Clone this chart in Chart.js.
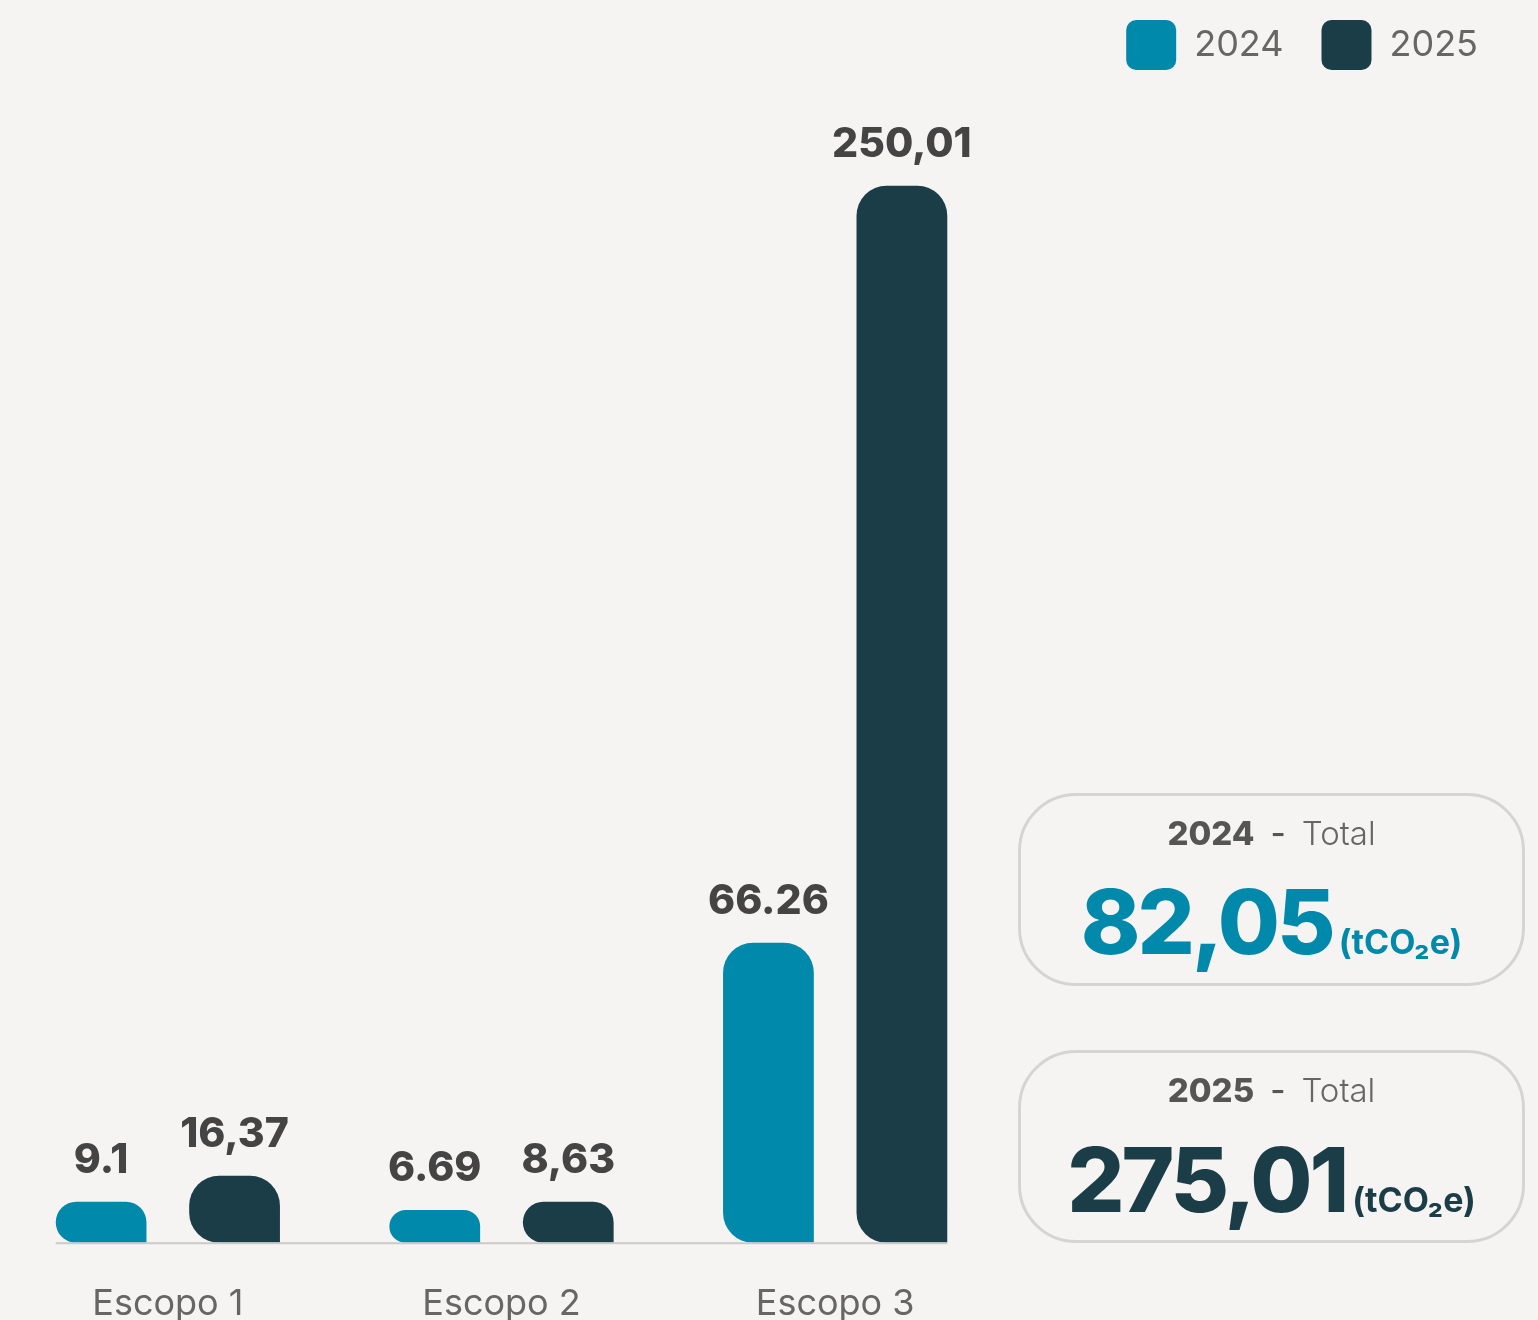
<!DOCTYPE html>
<html>
<head>
<meta charset="utf-8">
<script src="https://cdn.jsdelivr.net/npm/chart.js@4.4.1/dist/chart.umd.min.js"></script>
<style>
  html, body { margin: 0; padding: 0; background: #f5f4f2; }
  body { width: 1538px; height: 1320px; position: relative; overflow: hidden; font-family: Inter, "Noto Sans", sans-serif; }
  #wrap { position: absolute; left: 0; top: 0; width: 1538px; height: 1320px; }
  .box { position: absolute; left: 1018px; width: 501px; height: 187px; border: 3px solid #d5d4d2; border-radius: 58px; box-sizing: content-box; }
  .ttl { position: absolute; left: 1018px; width: 507px; text-align: center; font-size: 33px; line-height: 1; white-space: nowrap; }
  .ttl b { font-weight: 800; color: #555; }
  .ttl .dash { color: #555; font-weight: 500; margin: 0 16px; }
  .ttl .lt { font-weight: 300; color: #666; }
  .num { position: absolute; left: 1018px; width: 507px; text-align: center; font-size: 90px; line-height: 1; font-weight: 800; white-space: nowrap; letter-spacing: -3px; }
  .num span { font-size: 34px; font-weight: 700; letter-spacing: 0; margin-left: 6px; }
</style>
</head>
<body>
<div id="wrap"><canvas id="c" width="1538" height="1320"></canvas></div>

<div class="box" style="top:793px;"></div>
<div class="ttl" style="top:817px;"><b>2024</b><span class="dash">-</span><span class="lt">Total</span></div>
<div class="num" style="top:877px;color:#0089ab;" id="tot2024"></div>

<div class="box" style="top:1050px;"></div>
<div class="ttl" style="top:1074px;"><b>2025</b><span class="dash">-</span><span class="lt">Total</span></div>
<div class="num" style="top:1135px;color:#1a3d47;" id="tot2025"></div>

<script>
// ---- data ----
const categories = ["Escopo 1", "Escopo 2", "Escopo 3"];
const seriesNames = ["2024", "2025"];
const values2024 = [9.70, 7.74, 70.98];
const values2025 = [15.85, 9.70, 250.01];
const labels2024 = ["9.1", "6.69", "66.26"];
const labels2025 = ["16,37", "8,63", "250,01"];
const totalLabels = ["82,05", "275,01"];
const unitLabel = "(tCO\u2082e)";

const colors = ["#0089ab", "#1a3d47"];

document.getElementById('tot2024').innerHTML = totalLabels[0] + '<span>' + unitLabel + '</span>';
document.getElementById('tot2025').innerHTML = totalLabels[1] + '<span>' + unitLabel + '</span>';

const valueLabelPlugin = {
  id: 'valueLabels',
  afterDatasetsDraw(chart) {
    const ctx = chart.ctx;
    const txt = [labels2024, labels2025];
    ctx.save();
    ctx.font = '800 41px Inter, "Noto Sans", sans-serif';
    ctx.fillStyle = '#444444';
    ctx.textAlign = 'center';
    ctx.textBaseline = 'alphabetic';
    chart.data.datasets.forEach((ds, di) => {
      const meta = chart.getDatasetMeta(di);
      meta.data.forEach((bar, i) => {
        ctx.fillText(txt[di][i], bar.x, bar.y - 29);
      });
    });
    ctx.restore();
  }
};

const baseLinePlugin = {
  id: 'baseLine',
  afterDatasetsDraw(chart) {
    const m0 = chart.getDatasetMeta(0).data[0];
    const m1 = chart.getDatasetMeta(1).data[2];
    const x0 = m0.x - m0.width / 2;
    const x1 = m1.x + m1.width / 2;
    const y = chart.chartArea.bottom + 0.5;
    const ctx = chart.ctx;
    ctx.save();
    ctx.strokeStyle = '#cbcac8';
    ctx.lineWidth = 2;
    ctx.beginPath();
    ctx.moveTo(x0, y);
    ctx.lineTo(x1, y);
    ctx.stroke();
    ctx.restore();
  }
};

const radius = { topLeft: 30, topRight: 30, bottomLeft: 30, bottomRight: 0 };

new Chart(document.getElementById('c'), {
  type: 'bar',
  data: {
    labels: categories,
    datasets: [
      { label: seriesNames[0], data: values2024, backgroundColor: colors[0], borderWidth: 0, borderRadius: radius, borderSkipped: false },
      { label: seriesNames[1], data: values2025, backgroundColor: colors[1], borderWidth: 0, borderRadius: radius, borderSkipped: false }
    ]
  },
  options: {
    responsive: false,
    animation: false,
    devicePixelRatio: 1,
    datasets: { bar: { categoryPercentage: 0.8, barPercentage: 0.68 } },
    layout: { padding: { top: -18, left: 1, right: 22, bottom: -46 } },
    plugins: {
      tooltip: { enabled: false },
      legend: {
        position: 'top',
        align: 'end',
        labels: {
          boxWidth: 50,
          boxHeight: 50,
          useBorderRadius: true,
          borderRadius: 10,
          padding: 38,
          color: '#666666',
          font: { family: 'Inter, "Noto Sans", sans-serif', size: 36, weight: '400' }
        }
      }
    },
    scales: {
      x: {
        grid: { display: false, drawTicks: false },
        border: { display: false },
        ticks: {
          color: '#666666',
          padding: 40,
          font: { family: 'Inter, "Noto Sans", sans-serif', size: 36, weight: '400' }
        }
      },
      y: {
        position: 'right',
        min: 0,
        max: 275,
        grid: { display: false, drawTicks: false },
        border: { display: false },
        ticks: { display: false },
        afterFit(scale) { scale.width = 514; }
      }
    }
  },
  plugins: [valueLabelPlugin, baseLinePlugin]
});
</script>
</body>
</html>
